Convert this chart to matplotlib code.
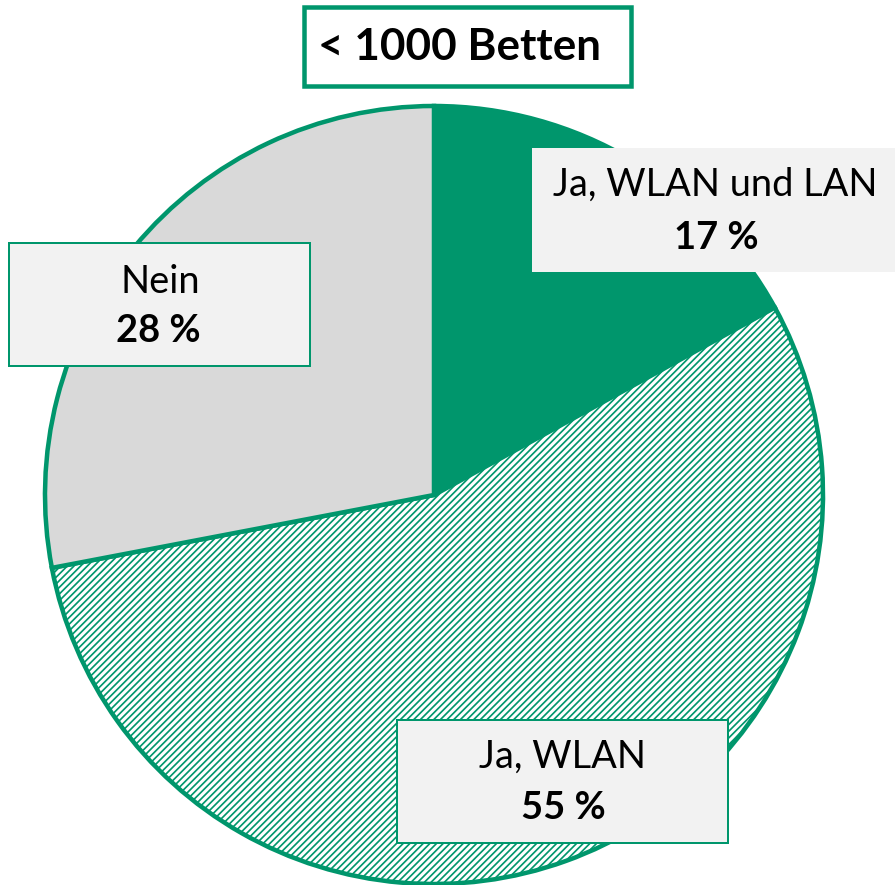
import matplotlib
matplotlib.use('Agg')
from matplotlib import pyplot as plt
from matplotlib.patches import Rectangle

W, H = 895, 885
DPI = 120

labels = ['Ja, WLAN und LAN', 'Ja, WLAN', 'Nein']
shares = [17, 55, 28]
title = '< 1000 Betten'

green = '#00966C'
grey = '#D9D9D9'
box_fill = '#F2F2F2'


def pt(px):
  return px * 72 / DPI


def flip(y):
  return H - y


plt.rcParams['font.family'] = ['Lato', 'DejaVu Sans']
plt.rcParams['hatch.linewidth'] = pt(1.7)
plt.rcParams['hatch.color'] = green

fig = plt.figure(figsize=(W / DPI, H / DPI), dpi=DPI)
ax = fig.add_axes([0, 0, 1, 1])

wedges, _ = ax.pie(shares, startangle=90, counterclock=False,
                   colors=[green, 'white', grey], center=(434, flip(495)),
                   radius=389,
                   wedgeprops=dict(edgecolor=green, linewidth=pt(4.5)))
wedges[1].set_hatch('//////')
ax.set_xlim(0, W)
ax.set_ylim(0, H)
ax.set_aspect('equal')
ax.axis('off')

# label boxes: (x0, y0, x1, y1) in pixels, then centres of the two text lines
boxes = [
  ((532, 148, 900, 272), (715, 185), (716, 238), 'none'),
  ((397, 720, 728, 843), (563, 757), (563, 808), green),
  ((9, 243, 310, 366), (160, 282), (158, 331), green),
]

for i, ((x0, y0, x1, y1), t1, t2, edge) in enumerate(boxes):
  ax.add_patch(Rectangle((x0, flip(y1)), x1 - x0, y1 - y0, facecolor=box_fill,
                         edgecolor=edge, linewidth=pt(2), zorder=3))
  ax.text(t1[0], flip(t1[1]), labels[i], ha='center', va='center',
          fontsize=pt(38), zorder=4)
  ax.text(t2[0], flip(t2[1]), f'{shares[i]} %', ha='center', va='center',
          fontsize=pt(38), fontweight='bold', zorder=4)

ax.add_patch(Rectangle((304, flip(86)), 327, 79, facecolor='white',
                       edgecolor=green, linewidth=pt(4.5), zorder=3))
ax.text(460, flip(47), title, ha='center', va='center', fontsize=pt(44),
        fontweight='bold', zorder=4)

fig.savefig('out.png', dpi=DPI)
